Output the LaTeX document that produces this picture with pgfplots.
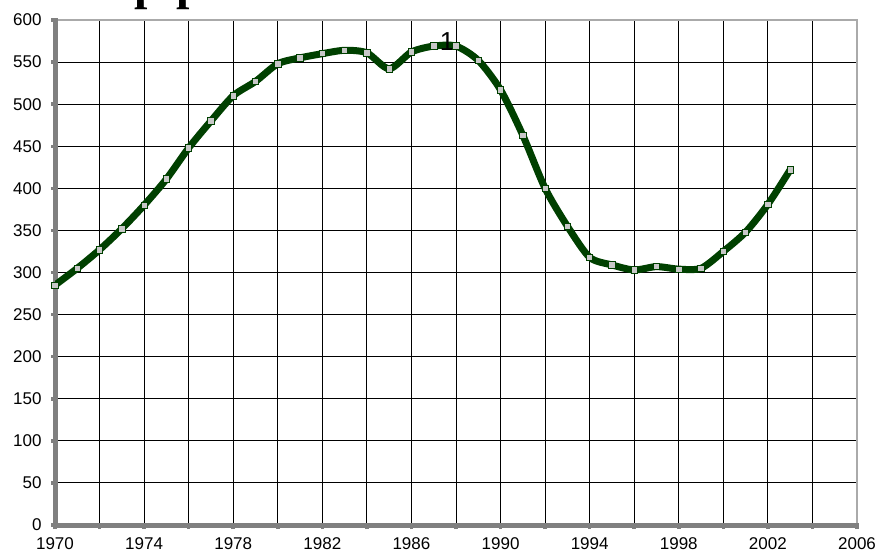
\documentclass[border=0pt]{standalone}
\usepackage{pgfplots}
\pgfplotsset{compat=1.18}
\usepackage{fontspec}
\setmainfont{Liberation Sans}
\newfontfamily\serifbold{Liberation Serif}
\definecolor{lineg}{RGB}{0,64,0}
\definecolor{mk}{RGB}{200,200,200}
\definecolor{axgray}{RGB}{128,128,128}
\definecolor{boxgray}{RGB}{170,170,170}
\begin{document}
\begin{tikzpicture}
\begin{axis}[
  set layers=standard,
  scale only axis, width=802pt, height=505pt,
  xmin=1970, xmax=2006, ymin=0, ymax=600,
  xtick={1970,1974,...,2006},
  minor xtick={1972,1976,...,2004},
  ytick={0,50,...,600},
  grid=both,
  major grid style={black, line width=0.9pt},
  minor grid style={black, line width=0.9pt},
  axis line style={draw=boxgray, line width=2.5pt},
  tick style={axgray, line width=3.5pt},
  tick align=outside,
  major tick length=4pt, minor tick length=4pt,
  xtick pos=left, ytick pos=left,
  ticklabel style={font=\fontsize{17}{20}\selectfont},
  /pgf/number format/assume math mode=true,
  x tick label style={/pgf/number format/1000 sep={}, yshift=-5pt},
  y tick label style={xshift=-6pt},
]
\begin{pgfonlayer}{axis lines}
\draw[axgray, line width=5pt] (rel axis cs:0,1.003) -- (rel axis cs:0,0) -- (rel axis cs:1.003,0);
\end{pgfonlayer}
\addplot[lineg, line width=7pt, smooth, tension=0.45, mark=square*, mark size=3.2pt,
  mark options={fill=mk, draw=lineg, line width=0.8pt}] coordinates {
(1970,285) (1971,305) (1972,327) (1973,352) (1974,380) (1975,411) (1976,448)
(1977,480) (1978,510) (1979,527) (1980,548) (1981,555) (1982,560) (1983,564)
(1984,561) (1985,542) (1986,562) (1987,569) (1988,569) (1989,552) (1990,517)
(1991,463) (1992,400) (1993,355) (1994,318) (1995,309) (1996,303) (1997,307)
(1998,304) (1999,305) (2000,325) (2001,348) (2002,381) (2003,422)
};
\node[font=\fontsize{26}{28}\selectfont, inner sep=0pt] at (axis cs:1987.6,574) {1};
\end{axis}
\node[anchor=base west, font=\serifbold\bfseries\fontsize{48}{50}\selectfont, inner sep=0pt] at (79pt,525.5pt) {p\hspace{16pt}p};
\pgfresetboundingbox
\path[use as bounding box] (-55pt,-30pt) rectangle (825pt,525pt);
\end{tikzpicture}
\end{document}
